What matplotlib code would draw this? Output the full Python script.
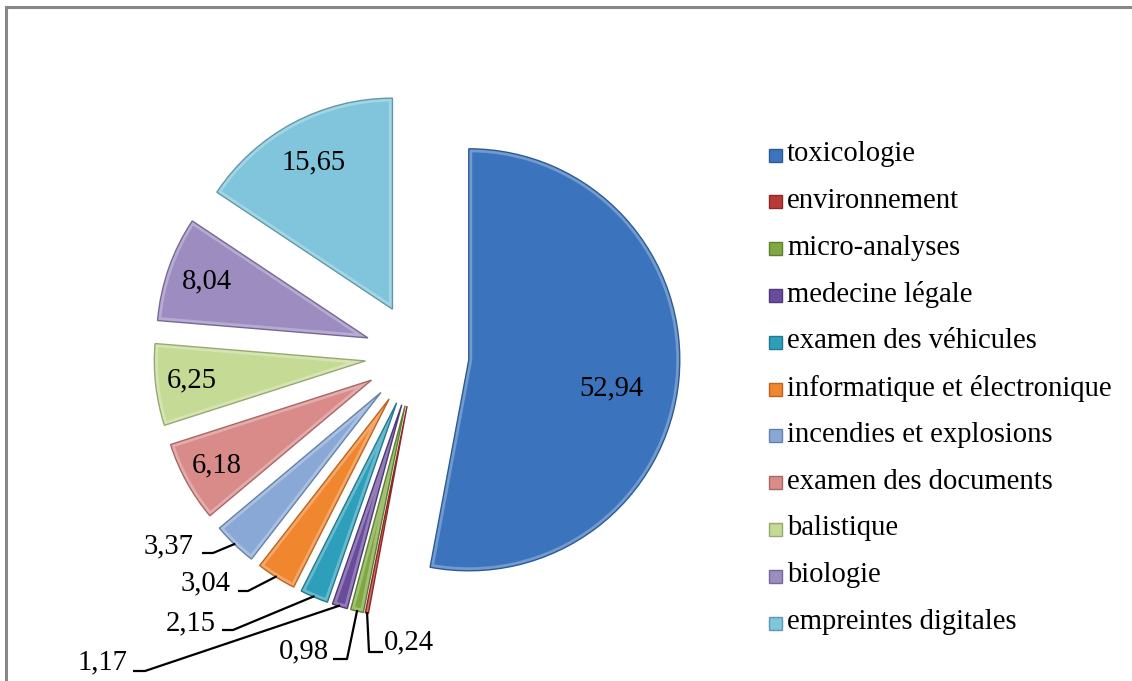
import numpy as np
import matplotlib
matplotlib.use("Agg")
import matplotlib.pyplot as plt
from matplotlib.patches import Rectangle, Wedge

# ---- data ----
categories = ["toxicologie", "environnement", "micro-analyses", "medecine légale",
              "examen des véhicules", "informatique et électronique",
              "incendies et explosions", "examen des documents", "balistique",
              "biologie", "empreintes digitales"]
values = [52.94, 0.24, 0.98, 1.17, 2.15, 3.04, 3.37, 6.18, 6.25, 8.04, 15.65]
value_labels = ["52,94", "0,24", "0,98", "1,17", "2,15", "3,04", "3,37",
                "6,18", "6,25", "8,04", "15,65"]

colors = ["#3b74bc", "#b83a36", "#7fa940", "#6a4c9c", "#2e9fba", "#f0862e",
          "#8aa8d6", "#d98b89", "#c4da95", "#9d8cc0", "#80c5dc"]
edge_colors = ["#2c5a95", "#8a2a27", "#5e7f2e", "#4e3875", "#227a8f", "#b9651f",
               "#6681a8", "#a86866", "#97a970", "#766895", "#5f98ab"]

W, H = 1132, 681
FONT = "Liberation Serif"
FS = 20.6

fig = plt.figure(figsize=(W / 100, H / 100), dpi=100)
ax = fig.add_axes([0, 0, 1, 1])

def Y(y):
    return H - y

cx, cy = 417, Y(355)
R = 211
explode_dist = 52  # data units (pixels)

wedges, _ = ax.pie(values, colors=colors, startangle=90, counterclock=False,
                   radius=R, center=(cx, cy), explode=[explode_dist] * len(values),
                   frame=True,
                   wedgeprops=dict(linewidth=0))

ax.set_xlim(0, W)
ax.set_ylim(0, H)
ax.set_aspect("equal")
ax.axis("off")

# bevel-like rim: light inner stroke clipped to each wedge, then dark outline
for w, ec in zip(wedges, edge_colors):
    rim = Wedge(w.center, w.r, w.theta1, w.theta2, facecolor="none",
                edgecolor="white", lw=5, alpha=0.28, zorder=w.get_zorder() + 0.1)
    ax.add_patch(rim)
    rim.set_clip_path(w)
    outline = Wedge(w.center, w.r, w.theta1, w.theta2, facecolor="none",
                    edgecolor=ec, lw=1.0, zorder=w.get_zorder() + 0.2)
    ax.add_patch(outline)

def geom(w):
    t1, t2 = w.theta1, w.theta2
    mid = np.deg2rad((t1 + t2) / 2)
    vx, vy = w.center
    return vx, vy, mid

# inside labels
inside = {0: (0.69, -6.2), 7: (0.84, 0), 8: (0.83, 0), 9: (0.81, 0), 10: (0.79, 0)}
for i, (frac, dang) in inside.items():
    vx, vy, mid = geom(wedges[i])
    a = mid + np.deg2rad(dang)
    ax.text(vx + frac * R * np.cos(a), vy + frac * R * np.sin(a), value_labels[i],
            ha="center", va="center", fontsize=FS, family=FONT, color="black",
            zorder=5)

# outside labels with leader lines: text anchor (right/left edge, center y) and elbow
outside = {
    6: dict(text=(194, 546), ha="right", elbow=[(202, 553), (213, 553)]),
    5: dict(text=(231, 583), ha="right", elbow=[(238, 591), (248, 591)]),
    4: dict(text=(216, 623), ha="right", elbow=[(222, 630), (233, 630)]),
    3: dict(text=(128, 662), ha="right", elbow=[(133, 671), (145, 671)]),
    2: dict(text=(329, 651), ha="right", elbow=[(333, 659), (347, 659)]),
    1: dict(text=(384, 642), ha="left", elbow=[(383, 652), (369, 652)]),
}
for i, spec in outside.items():
    vx, vy, mid = geom(wedges[i])
    px = vx + 0.995 * R * np.cos(mid)
    py = vy + 0.995 * R * np.sin(mid)
    xs = [e[0] for e in spec["elbow"]] + [px]
    ys = [Y(e[1]) for e in spec["elbow"]] + [py]
    ax.plot(xs, ys, color="black", lw=1.6, solid_capstyle="butt", zorder=5)
    tx, ty = spec["text"]
    ax.text(tx, Y(ty), value_labels[i], ha=spec["ha"], va="center",
            fontsize=FS, family=FONT, color="black", zorder=5)

# legend
leg_x, leg_y0, leg_dy, sq = 769, 155, 46.8, 13
for k, cat in enumerate(categories):
    yy = leg_y0 + k * leg_dy
    ax.add_patch(Rectangle((leg_x, Y(yy) - sq / 2), sq, sq, facecolor=colors[k],
                           edgecolor=edge_colors[k], lw=1.0))
    ax.text(leg_x + 18, Y(yy) + 1, cat, ha="left", va="center",
            fontsize=FS, family=FONT, color="black")

# outer frame (cut at right and bottom)
ax.plot([6, 6, W + 5], [-5, Y(7), Y(7)], color="#878787", lw=2.2,
        solid_joinstyle="miter")

fig.savefig("out.png", dpi=100)
